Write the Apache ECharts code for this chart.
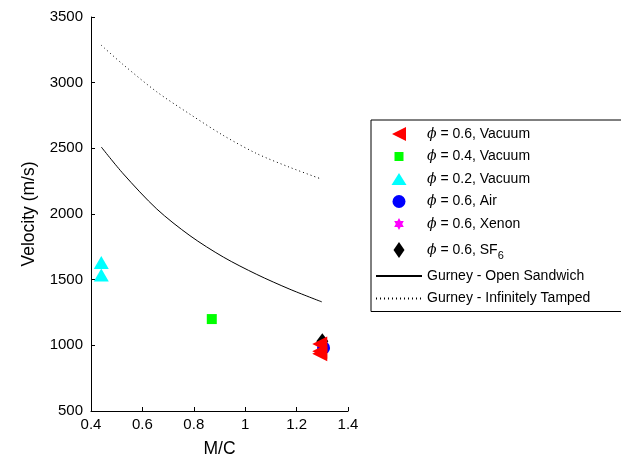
<!DOCTYPE html>
<html>
<head>
<meta charset="utf-8">
<script src="https://cdn.jsdelivr.net/npm/echarts@6/dist/echarts.min.js"></script>
<style>html,body{margin:0;padding:0;background:#fff}#c{width:621px;height:463px}</style>
</head>
<body>
<div id="c"></div>
<script>
// ---- data ----
const xTicks = [0.4, 0.6, 0.8, 1.0, 1.2, 1.4];
const yTicks = [500, 1000, 1500, 2000, 2500, 3000, 3500];
const phi06Vacuum = [[1.29, 1010], [1.29, 955], [1.29, 935]];
const phi04Vacuum = [[0.87, 1200]];
const phi02Vacuum = [[0.44, 1630], [0.44, 1535]];
const phi06Air = [[1.305, 980]];
const phi06Xenon = [[1.3, 970]];
const phi06SF6 = [[1.3, 1032]];
const gurneyOpen = [[0.44, 2510], [0.526, 2305], [0.656, 2038], [0.785, 1835], [0.915, 1672], [1.045, 1540], [1.174, 1427], [1.298, 1331]];
const gurneyTamped = [[0.44, 3285], [0.526, 3136], [0.656, 2930], [0.785, 2760], [0.915, 2598], [1.045, 2460], [1.174, 2355], [1.298, 2265]];
const legendNames = ['p06v', 'p04v', 'p02v', 'p06a', 'p06x', 'p06s', 'open', 'tamped'];
const legendLabels = {
  p06v: '{i|ϕ} = 0.6, Vacuum',
  p04v: '{i|ϕ} = 0.4, Vacuum',
  p02v: '{i|ϕ} = 0.2, Vacuum',
  p06a: '{i|ϕ} = 0.6, Air',
  p06x: '{i|ϕ} = 0.6, Xenon',
  p06s: '{i|ϕ} = 0.6, SF{s|6}',
  open: 'Gurney - Open Sandwich',
  tamped: 'Gurney - Infinitely Tamped'
};

const FONT = '"Liberation Sans", Arial, Helvetica, sans-serif';
const hexagram = 'path://M100 0 L128.9 50 L186.6 50 L157.7 100 L186.6 150 L128.9 150 L100 200 L71.1 150 L13.4 150 L42.3 100 L13.4 50 L71.1 50 Z';
// legend icons drawn in a fixed 16x16 frame (corner points keep the frame size)
const FRAME = 'M0 0 L0 0 M16 16 L16 16 ';
const legendIcons = {
  p06v: 'path://' + FRAME + 'M1 8 L15 1 L15 15 Z',
  p04v: 'path://' + FRAME + 'M3.5 3.5 L12.5 3.5 L12.5 12.5 L3.5 12.5 Z',
  p02v: 'path://' + FRAME + 'M8 2 L15.5 14 L0.5 14 Z',
  p06a: 'path://' + FRAME + 'M8 1.5 A6.5 6.5 0 1 1 7.99 1.5 Z',
  p06x: 'path://' + FRAME + 'M8 2 L9.6 4.9 L12.8 4.9 L11.2 8 L12.8 11 L9.6 11 L8 14 L6.4 11 L3.2 11 L4.8 8 L3.2 4.9 L6.4 4.9 Z',
  p06s: 'path://' + FRAME + 'M8 0 L13.5 8 L8 16 L2.5 8 Z'
};
const legendColors = {p06v: '#ff0000', p04v: '#00ff00', p02v: '#00ffff', p06a: '#0000ff', p06x: '#ff00ff', p06s: '#000000'};

const legendData = legendNames.map(function (n) {
  if (legendIcons[n]) {
    return {name: n, icon: legendIcons[n], itemStyle: {color: legendColors[n], borderWidth: 0, opacity: 1}};
  }
  return {name: n, itemStyle: {color: 'rgba(0,0,0,0)', borderColor: 'rgba(0,0,0,0)', borderWidth: 0, opacity: 0}};
});

const chart = echarts.init(document.getElementById('c'), null, {renderer: 'canvas'});
chart.setOption({
  animation: false,
  backgroundColor: '#fff',
  grid: {left: 91, right: 273, top: 17, bottom: 50, containLabel: false},
  xAxis: {
    type: 'value', min: xTicks[0], max: xTicks[xTicks.length - 1], interval: 0.2,
    name: 'M/C', nameLocation: 'middle', nameGap: 29,
    nameTextStyle: {fontSize: 17.5, color: '#000', fontFamily: FONT},
    axisLine: {show: true, onZero: false, lineStyle: {color: '#000', width: 1}},
    axisTick: {show: true, inside: true, length: 4, lineStyle: {color: '#000'}},
    axisLabel: {fontSize: 15, color: '#000', fontFamily: FONT, margin: 6,
      formatter: function (v) { return String(Math.round(v * 10) / 10); }},
    splitLine: {show: false}
  },
  yAxis: {
    type: 'value', min: yTicks[0], max: yTicks[yTicks.length - 1], interval: 500,
    name: 'Velocity (m/s)', nameLocation: 'middle', nameGap: 53,
    nameTextStyle: {fontSize: 17.5, color: '#000', fontFamily: FONT},
    axisLine: {show: true, onZero: false, lineStyle: {color: '#000', width: 1}},
    axisTick: {show: true, inside: true, length: 4, lineStyle: {color: '#000'}},
    axisLabel: {fontSize: 15, color: '#000', fontFamily: FONT, margin: 8,
      formatter: function (v) { return String(v); }},
    splitLine: {show: false}
  },
  legend: {
    orient: 'vertical', left: 371, top: 120,
    padding: [6, 40, 5, 4],
    borderColor: '#000', borderWidth: 1, borderRadius: 0,
    backgroundColor: '#fff',
    itemWidth: 46, itemHeight: 16, itemGap: 6.5,
    symbolKeepAspect: true,
    selectedMode: false,
    data: legendData,
    formatter: function (n) { return legendLabels[n]; },
    textStyle: {
      fontSize: 14, color: '#000', fontFamily: FONT, lineHeight: 16,
      rich: {
        i: {fontSize: 14, fontStyle: 'italic', fontFamily: '"DejaVu Serif", serif', color: '#000', lineHeight: 16},
        s: {fontSize: 11, fontFamily: FONT, color: '#000', padding: [12, 0, 0, 0], lineHeight: 12}
      }
    }
  },
  series: [
    {name: 'open', type: 'line', data: gurneyOpen, smooth: 0.3, symbol: 'none', z: 2,
     lineStyle: {color: '#000', width: 1, type: 'solid'}, itemStyle: {color: '#000'}},
    {name: 'tamped', type: 'line', data: gurneyTamped, smooth: 0.3, symbol: 'none', z: 2,
     lineStyle: {color: '#000', width: 1, type: [1, 3]}, itemStyle: {color: '#000'}},
    {name: 'p06s', type: 'scatter', data: phi06SF6, symbol: 'diamond', symbolSize: [12, 16], z: 3,
     itemStyle: {color: '#000', opacity: 1}},
    {name: 'p06x', type: 'scatter', data: phi06Xenon, symbol: hexagram, symbolSize: 11, z: 3,
     itemStyle: {color: '#ff00ff', opacity: 1}},
    {name: 'p06a', type: 'scatter', data: phi06Air, symbol: 'circle', symbolSize: 13, z: 3,
     itemStyle: {color: '#0000ff', opacity: 1}},
    {name: 'p06v', type: 'scatter', data: phi06Vacuum, symbol: 'triangle', symbolRotate: 90, symbolSize: [15, 15], z: 3,
     itemStyle: {color: '#ff0000', opacity: 1}},
    {name: 'p04v', type: 'scatter', data: phi04Vacuum, symbol: 'rect', symbolSize: 10, z: 3,
     itemStyle: {color: '#00ff00', opacity: 1}},
    {name: 'p02v', type: 'scatter', data: phi02Vacuum, symbol: 'triangle', symbolSize: [15, 13], z: 3,
     itemStyle: {color: '#00ffff', opacity: 1}}
  ]
});
</script>
</body>
</html>
